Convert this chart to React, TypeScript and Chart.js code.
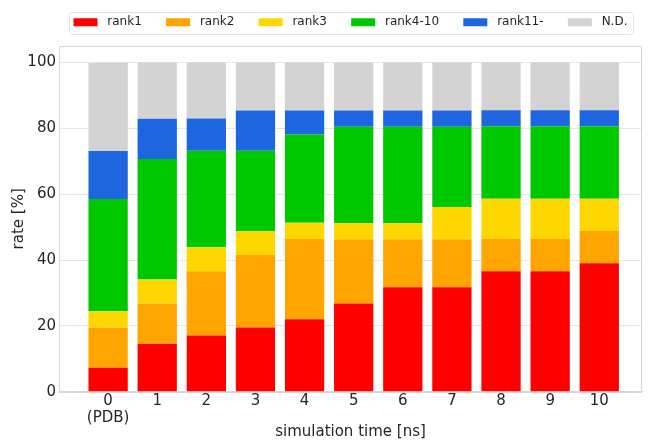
import React, { useEffect, useRef } from 'react';
import { Chart, registerables } from 'chart.js';

Chart.register(...registerables);

// ---- data (percent of 41 cases) ----
const categories = ['0', '1', '2', '3', '4', '5', '6', '7', '8', '9', '10'];
const tickLabels: (string | string[])[] = [['0', '(PDB)'], '1', '2', '3', '4', '5', '6', '7', '8', '9', '10'];
const rank1 = [7.3, 14.6, 17.1, 19.5, 22.0, 26.8, 31.7, 31.7, 36.6, 36.6, 39.0];
const rank2 = [12.2, 12.2, 19.5, 22.0, 24.4, 19.5, 14.6, 14.6, 9.8, 9.8, 9.8];
const rank3 = [4.9, 7.3, 7.3, 7.3, 4.9, 4.9, 4.9, 9.8, 12.2, 12.2, 9.8];
const rank4to10 = [34.1, 36.6, 29.3, 24.4, 26.8, 29.3, 29.3, 24.4, 22.0, 22.0, 22.0];
const rank11plus = [14.6, 12.2, 9.8, 12.2, 7.3, 4.9, 4.9, 4.9, 4.9, 4.9, 4.9];
const notDetected = [26.8, 17.1, 17.1, 14.6, 14.6, 14.6, 14.6, 14.6, 14.6, 14.6, 14.6];
const seriesNames = ['rank1', 'rank2', 'rank3', 'rank4-10', 'rank11-', 'N.D.'];
const seriesValues = [rank1, rank2, rank3, rank4to10, rank11plus, notDetected];
const seriesColors = ['#ff0000', '#ffa500', '#ffd700', '#00c800', '#1d66e0', '#d3d3d3'];
const yTickStep = 20;

const TEXT = '#262626';
const FRAME = '#d6d6d6';
const GRID = '#e6e6e6';

const framePlugin = {
  id: 'frameAndLegendBox',
  afterDatasetsDraw(chart: any) {
    const { ctx, chartArea } = chart;
    ctx.save();
    ctx.strokeStyle = FRAME;
    ctx.lineWidth = 1;
    ctx.strokeRect(
      Math.round(chartArea.left) + 0.5,
      Math.round(chartArea.top) + 0.5,
      Math.round(chartArea.right - chartArea.left) - 1,
      Math.round(chartArea.bottom - chartArea.top)
    );
    ctx.restore();
  },
  afterDraw(chart: any) {
    const lg = chart.legend;
    if (!lg || !lg.legendHitBoxes || !lg.legendHitBoxes.length) return;
    const hb = lg.legendHitBoxes;
    const first = hb[0];
    const last = hb[hb.length - 1];
    const left = first.left - 5;
    const right = last.left + last.width + 6;
    const top = first.top - 4;
    const bottom = first.top + 18;
    const { ctx } = chart;
    ctx.save();
    ctx.strokeStyle = '#e2e2e2';
    ctx.lineWidth = 1;
    ctx.beginPath();
    const r = 3;
    const x0 = Math.round(left) + 0.5, y0 = Math.round(top) + 0.5;
    const x1 = Math.round(right) + 0.5, y1 = Math.round(bottom) + 0.5;
    ctx.moveTo(x0 + r, y0);
    ctx.lineTo(x1 - r, y0);
    ctx.arcTo(x1, y0, x1, y0 + r, r);
    ctx.lineTo(x1, y1 - r);
    ctx.arcTo(x1, y1, x1 - r, y1, r);
    ctx.lineTo(x0 + r, y1);
    ctx.arcTo(x0, y1, x0, y1 - r, r);
    ctx.lineTo(x0, y0 + r);
    ctx.arcTo(x0, y0, x0 + r, y0, r);
    ctx.closePath();
    ctx.stroke();
    ctx.restore();
  },
};

export default function App() {
  const canvasRef = useRef<HTMLCanvasElement | null>(null);

  useEffect(() => {
    document.body.style.margin = '0';
    Chart.defaults.font.family = "'DejaVu Sans', sans-serif";
    const canvas = canvasRef.current;
    if (!canvas) return;

    const datasets = seriesValues.map((vals, s) => ({
      label: seriesNames[s],
      data: vals.map((v, i) => ({ x: i, y: v })),
      backgroundColor: seriesColors[s],
      borderWidth: 0,
      categoryPercentage: 1,
      barPercentage: 0.8,
    }));

    const chart = new Chart(canvas, {
      type: 'bar',
      data: { datasets } as any,
      plugins: [framePlugin],
      options: {
        animation: false,
        responsive: true,
        maintainAspectRatio: false,
        layout: { padding: { top: 7.2, right: 6, bottom: 0, left: 0 } },
        plugins: {
          legend: {
            position: 'top',
            fullSize: false,
            align: 'center',
            labels: {
              boxWidth: 24,
              boxHeight: 8,
              padding: 9,
              color: TEXT,
              font: { size: 12 },
              generateLabels: (ch: any) => {
                const items = (Chart.defaults.plugins.legend.labels as any).generateLabels(ch);
                return items.map((it: any, i: number) => ({
                  ...it,
                  text: ' ' + it.text + (i < items.length - 1 ? '    ' : ''),
                  lineWidth: 0,
                }));
              },
            },
          } as any,
          title: {
            display: true,
            text: '',
            fullSize: false,
            weight: 500,
            padding: 0,
            font: { size: 7.8, lineHeight: 1 },
          } as any,
          tooltip: { enabled: false },
        },
        scales: {
          x: {
            type: 'linear',
            stacked: true,
            offset: false,
            min: -1.0,
            max: 10.87,
            afterBuildTicks: (axis: any) => {
              axis.ticks = categories.map((_, i) => ({ value: i }));
            },
            afterFit: (scale: any) => {
              scale.height = 48.3;
            },
            ticks: {
              autoSkip: false,
              maxRotation: 0,
              minRotation: 0,
              padding: 1,
              color: TEXT,
              font: { size: 15, lineHeight: 1.13 },
              callback: (value: any) => tickLabels[Number(value)] as any,
            },
            grid: { display: false, drawTicks: false },
            border: { display: true, color: FRAME },
            title: {
              display: true,
              text: 'simulation time [ns]',
              color: TEXT,
              font: { size: 15, lineHeight: 1 },
              padding: { top: 0, bottom: 0.5 },
            },
          } as any,
          y: {
            stacked: true,
            min: 0,
            max: 105,
            afterFit: (scale: any) => {
              scale.width = 59;
            },
            ticks: {
              stepSize: yTickStep,
              includeBounds: false,
              padding: 3,
              color: TEXT,
              font: { size: 15 },
            },
            grid: { color: GRID, drawTicks: false },
            border: { display: true, color: FRAME },
            title: {
              display: true,
              text: 'rate [%]',
              color: TEXT,
              font: { size: 15, lineHeight: 1.2 },
              padding: { top: 10, bottom: 0 },
            },
          } as any,
        },
      },
    });

    return () => chart.destroy();
  }, []);

  return (
    <div style={{ position: 'absolute', left: 0, top: 0, width: 648, height: 440 }}>
      <canvas ref={canvasRef} />
    </div>
  );
}
